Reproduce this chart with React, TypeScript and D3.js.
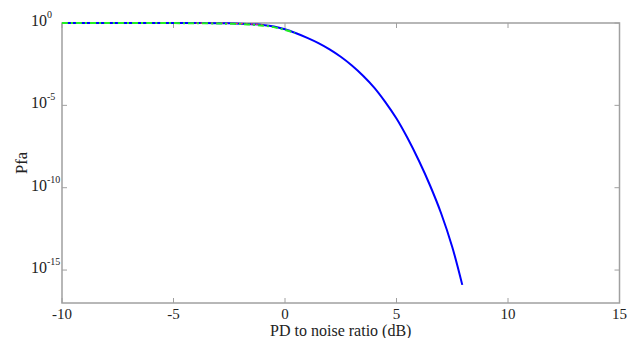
import React, { useEffect, useRef } from "react";
import * as d3 from "d3";

// PD to noise ratio (dB)
const snrBlue = [-10, -9, -8, -7, -6, -5, -4, -3, -2.5, -2, -1.5, -1, -0.5, 0, 0.5, 1, 1.5, 2, 2.5, 3, 3.5, 4, 4.5, 5, 5.5, 6, 6.5, 7, 7.5, 7.95];
// log10(Pfa)
const logPfaBlue = [0, 0, 0, 0, 0, -0.001, -0.004, -0.012, -0.022, -0.04, -0.07, -0.12, -0.21, -0.38, -0.62, -0.9, -1.22, -1.6, -2.05, -2.58, -3.2, -3.92, -4.8, -5.8, -7.0, -8.35, -9.85, -11.55, -13.6, -15.9];

const snrRed = [-4, -3, -2.5, -2, -1.5, -1];
const logPfaRed = [-0.002, -0.01, -0.02, -0.035, -0.065, -0.11];

const snrGreen = [-10, -8, -6, -5, -4, -3, -2.5, -2, -1.5, -1, -0.5, 0, 0.45];
const logPfaGreen = [0, 0, -0.002, -0.006, -0.015, -0.03, -0.045, -0.065, -0.1, -0.16, -0.25, -0.42, -0.6];

const xTicks = [-10, -5, 0, 5, 10, 15];
const yExps = [0, -5, -10, -15];

export default function App() {
  const svgRef = useRef<SVGSVGElement>(null);

  useEffect(() => {
    const svg = d3.select(svgRef.current);
    svg.selectAll("*").remove();

    const left = 62, right = 619.5, top = 23, bottom = 303;
    const x = d3.scaleLinear().domain([-10, 15]).range([left, right]);
    const y = d3.scaleLog().domain([1e-17, 1]).range([bottom, top]);
    const axisColor = "#a0a0a0";
    const font = "'Liberation Serif', 'Times New Roman', serif";

    const line = d3
      .line<[number, number]>()
      .x((d) => x(d[0]))
      .y((d) => y(Math.pow(10, d[1])))
      .curve(d3.curveCatmullRom.alpha(0.5));

    // frame
    svg
      .append("rect")
      .attr("x", left)
      .attr("y", top)
      .attr("width", right - left)
      .attr("height", bottom - top)
      .attr("fill", "none")
      .attr("stroke", axisColor)
      .attr("stroke-width", 1.5);

    // x ticks (bottom and top, inward)
    xTicks.forEach((t) => {
      const px = x(t);
      svg.append("line").attr("x1", px).attr("x2", px).attr("y1", bottom).attr("y2", bottom - 5)
        .attr("stroke", axisColor).attr("stroke-width", 1);
      svg.append("line").attr("x1", px).attr("x2", px).attr("y1", top).attr("y2", top + 5)
        .attr("stroke", axisColor).attr("stroke-width", 1);
      svg.append("text").attr("x", px).attr("y", 319).attr("text-anchor", "middle")
        .attr("font-family", font).attr("font-size", 15).attr("fill", "#222").text(t);
    });

    // y ticks
    yExps.forEach((e) => {
      const py = y(Math.pow(10, e));
      svg.append("line").attr("x1", left).attr("x2", left + 5).attr("y1", py).attr("y2", py)
        .attr("stroke", axisColor).attr("stroke-width", 1);
      svg.append("line").attr("x1", right).attr("x2", right - 5).attr("y1", py).attr("y2", py)
        .attr("stroke", axisColor).attr("stroke-width", 1);
      const txt = svg.append("text").attr("x", 31).attr("y", py + 3)
        .attr("font-family", font).attr("font-size", 16).attr("fill", "#222");
      txt.append("tspan").text("10");
      txt.append("tspan").attr("dy", -8).attr("font-size", 10).text(e);
    });

    // curves
    svg.append("path")
      .datum(snrBlue.map((v, i) => [v, logPfaBlue[i]] as [number, number]))
      .attr("d", line).attr("fill", "none").attr("stroke", "#0000ff").attr("stroke-width", 2);
    svg.append("path")
      .datum(snrRed.map((v, i) => [v, logPfaRed[i]] as [number, number]))
      .attr("d", line).attr("fill", "none").attr("stroke", "#ff4040").attr("stroke-width", 1.2)
      .attr("stroke-dasharray", "2,3");
    svg.append("path")
      .datum(snrGreen.map((v, i) => [v, logPfaGreen[i]] as [number, number]))
      .attr("d", line).attr("fill", "none").attr("stroke", "#22ee22").attr("stroke-width", 2)
      .attr("stroke-dasharray", "6,3,2,3");

    // axis labels
    svg.append("text").attr("x", (left + right) / 2).attr("y", 336).attr("text-anchor", "middle")
      .attr("font-family", font).attr("font-size", 16).attr("fill", "#222")
      .text("PD to noise ratio (dB)");
    svg.append("text").attr("transform", `translate(27,163) rotate(-90)`).attr("text-anchor", "middle")
      .attr("font-family", font).attr("font-size", 16.5).attr("fill", "#222").text("Pfa");
  }, []);

  return (
    <div style={{ position: "absolute", left: 0, top: 0, width: 627, height: 338, background: "#fff" }}>
      <svg ref={svgRef} width={627} height={338}></svg>
    </div>
  );
}
